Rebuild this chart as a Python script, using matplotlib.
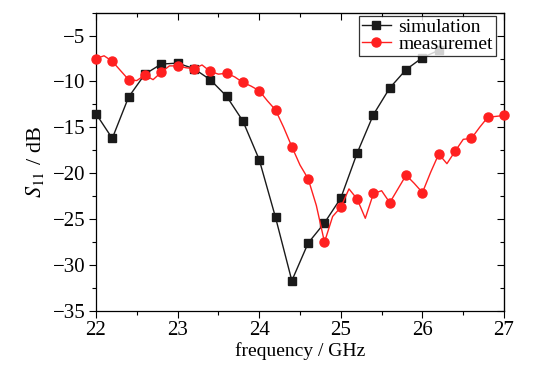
import numpy as np
import matplotlib.pyplot as plt
from matplotlib.ticker import MultipleLocator

plt.rcParams['font.family'] = ['Liberation Serif', 'DejaVu Serif']
plt.rcParams['mathtext.fontset'] = 'stix'

# simulation, every 0.2 GHz
f_sim = [22.0, 22.2, 22.4, 22.6, 22.8, 23.0, 23.2, 23.4, 23.6, 23.8, 24.0,
         24.2, 24.4, 24.6, 24.8, 25.0, 25.2, 25.4, 25.6, 25.8, 26.0, 26.2]
s_sim = [-13.5, -16.2, -11.7, -9.2, -8.1, -8.0, -8.6, -9.8, -11.6, -14.3, -18.5,
         -24.8, -31.7, -27.6, -25.4, -22.7, -17.8, -13.6, -10.7, -8.7, -7.4, -6.6]

# measurement, every 0.1 GHz (markers drawn every 0.2)
f_meas = [22.0, 22.1, 22.2, 22.3, 22.4, 22.5, 22.6, 22.7, 22.8, 22.9, 23.0,
          23.1, 23.2, 23.3, 23.4, 23.5, 23.6, 23.7, 23.8, 23.9, 24.0,
          24.1, 24.2, 24.3, 24.4, 24.5, 24.6, 24.7, 24.8, 24.9, 25.0,
          25.1, 25.2, 25.3, 25.4, 25.5, 25.6, 25.7, 25.8, 25.9, 26.0,
          26.1, 26.2, 26.3, 26.4, 26.5, 26.6, 26.7, 26.8, 26.9, 27.0]
s_meas = [-7.5, -7.2, -7.8, -8.8, -9.8, -9.9, -9.3, -9.8, -9.0, -8.3, -8.3,
          -8.5, -8.6, -8.2, -8.9, -9.2, -9.1, -9.5, -10.1, -10.5, -11.0,
          -12.1, -13.1, -15.0, -17.1, -19.1, -20.6, -23.5, -27.5, -24.7, -23.7,
          -21.7, -22.8, -24.9, -22.2, -21.9, -23.2, -21.7, -20.2, -21.1, -22.1,
          -19.9, -17.9, -18.95, -17.6, -16.3, -16.2, -15.0, -13.9, -13.8, -13.7]

fig = plt.figure(figsize=(5.42, 3.72), dpi=100)
ax = fig.add_axes([0.177, 0.164, 0.753, 0.802])

ax.plot(f_sim, s_sim, color='#1a1a1a', lw=1.0, marker='s', ms=6,
        label='simulation', clip_on=False, zorder=3)
ax.plot(f_meas, s_meas, color='#ff2020', lw=1.0, marker='o', ms=6.5,
        markevery=2, label='measuremet', clip_on=False, zorder=4)

ax.set_xlim(22, 27)
ax.set_ylim(-35, -2.5)
ax.xaxis.set_major_locator(MultipleLocator(1))
ax.xaxis.set_minor_locator(MultipleLocator(0.5))
ax.yaxis.set_major_locator(MultipleLocator(5))
ax.yaxis.set_minor_locator(MultipleLocator(2.5))
ax.tick_params(which='both', direction='out', labelsize=15, width=0.8)
ax.tick_params(which='major', length=5, pad=2.5)
ax.tick_params(which='minor', length=3)

# top and right ticks point inward
top = ax.secondary_xaxis('top')
top.xaxis.set_major_locator(MultipleLocator(1))
top.xaxis.set_minor_locator(MultipleLocator(0.5))
top.tick_params(which='both', direction='in', labeltop=False, width=0.8)
top.tick_params(which='major', length=5)
top.tick_params(which='minor', length=3)
right = ax.secondary_yaxis('right')
right.yaxis.set_major_locator(MultipleLocator(5))
right.yaxis.set_minor_locator(MultipleLocator(2.5))
right.tick_params(which='both', direction='in', labelright=False, width=0.8)
right.tick_params(which='major', length=5)
right.tick_params(which='minor', length=3)

for sp in ax.spines.values():
    sp.set_linewidth(0.9)

ax.set_xlabel('frequency / GHz', fontsize=14, labelpad=1)
ax.set_ylabel(r'$S_{\rm 11}$ / dB', fontsize=16, labelpad=5)

leg = ax.legend(loc='upper right', bbox_to_anchor=(0.98, 0.99), fontsize=14,
                frameon=True, fancybox=False, edgecolor='black',
                borderaxespad=0, borderpad=0.15, handlelength=1.5,
                handletextpad=0.4, labelspacing=-0.05)
leg.get_frame().set_linewidth(0.9)

fig.savefig('out.png', dpi=100)
